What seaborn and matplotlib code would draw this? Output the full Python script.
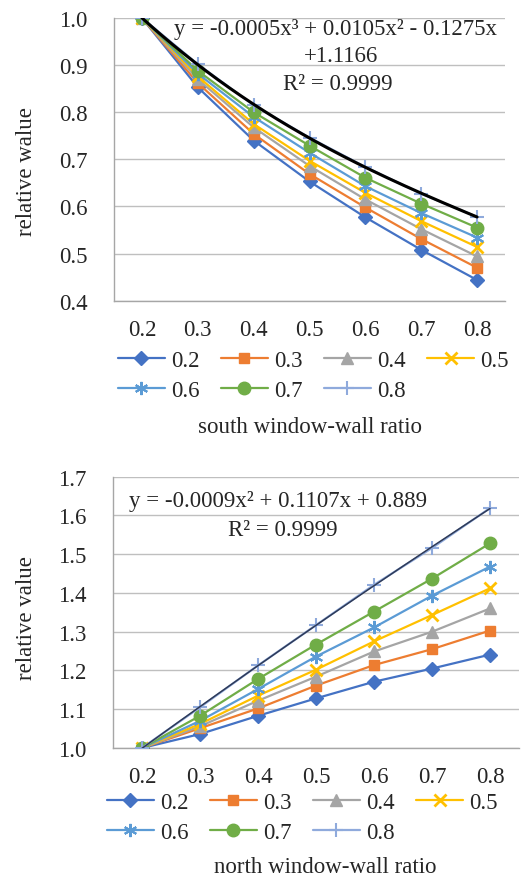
import numpy as np
import pandas as pd
import matplotlib
matplotlib.use("Agg")
import matplotlib.pyplot as plt
import seaborn as sns
from matplotlib.ticker import FixedLocator, FuncFormatter

# ---------------- data ----------------
categories = ["0.2", "0.3", "0.4", "0.5", "0.6", "0.7", "0.8"]
series_names = ["0.2", "0.3", "0.4", "0.5", "0.6", "0.7", "0.8"]

south_02 = [1.0, 0.853, 0.740, 0.653, 0.577, 0.508, 0.444]
south_03 = [1.0, 0.862, 0.754, 0.669, 0.598, 0.531, 0.470]
south_04 = [1.0, 0.870, 0.768, 0.686, 0.615, 0.552, 0.494]
south_05 = [1.0, 0.876, 0.775, 0.697, 0.629, 0.569, 0.514]
south_06 = [1.0, 0.882, 0.790, 0.714, 0.643, 0.586, 0.534]
south_07 = [1.0, 0.888, 0.800, 0.729, 0.661, 0.606, 0.555]
south_08 = [1.0, 0.902, 0.815, 0.746, 0.684, 0.627, 0.578]

north_02 = [1.0, 1.036, 1.083, 1.128, 1.171, 1.205, 1.241]
north_03 = [1.0, 1.051, 1.102, 1.161, 1.214, 1.255, 1.303]
north_04 = [1.0, 1.056, 1.122, 1.184, 1.249, 1.300, 1.360]
north_05 = [1.0, 1.062, 1.135, 1.202, 1.275, 1.343, 1.412]
north_06 = [1.0, 1.070, 1.152, 1.236, 1.311, 1.393, 1.468]
north_07 = [1.0, 1.083, 1.178, 1.267, 1.352, 1.437, 1.528]
north_08 = [1.0, 1.105, 1.213, 1.317, 1.421, 1.516, 1.619]

south_yticks = [0.4, 0.5, 0.6, 0.7, 0.8, 0.9, 1.0]
north_yticks = [1.0, 1.1, 1.2, 1.3, 1.4, 1.5, 1.6, 1.7]

south_eq = ["y = -0.0005x\u00b3 + 0.0105x\u00b2 - 0.1275x", "+1.1166", "R\u00b2 = 0.9999"]
north_eq = ["y = -0.0009x\u00b2 + 0.1107x + 0.889", "R\u00b2 = 0.9999"]

# ---------------- style ----------------
sns.set_style("white")
plt.rcParams["font.family"] = ["Liberation Serif", "DejaVu Serif"]
FS = 16.5

colors = ["#4472C4", "#ED7D31", "#A5A5A5", "#FFC000", "#5B9BD5", "#70AD47", "#8FAADC"]
markers = ["D", "s", "^", "x", (6, 2, 0), "o", "+"]
msizes = [7, 7.5, 8.5, 8.5, 9.5, 9, 10.5]
mews = [1, 1, 1, 2, 1.5, 1, 1.5]

W, H = 522, 879
fig = plt.figure(figsize=(W / 100, H / 100), dpi=100)

def px_axes(l, r, t, b):
    return fig.add_axes([l / W, 1 - b / H, (r - l) / W, (b - t) / H])

ax1 = px_axes(114, 505, 19, 301.7)
ax2 = px_axes(113, 519, 477.7, 749)

grey = "#A6A6A6"

def draw(ax, data, trend_deg, trend_color, trend_lw, ylim, yticks, ylabel, label_xy):
    x = np.arange(len(categories))
    for name, vals, c, m, ms, mew in zip(series_names, data, colors, markers, msizes, mews):
        sns.lineplot(x=x, y=vals, ax=ax, color=c, marker=m, markersize=ms,
                     markeredgewidth=mew, markeredgecolor=c, linewidth=1.6,
                     label=name, legend=False, zorder=3)
    # trendline of the last series
    xs = np.arange(1, len(categories) + 1)
    coef = np.polyfit(xs, data[-1], trend_deg)
    xf = np.linspace(1, len(categories), 200)
    sns.lineplot(x=xf - 1, y=np.polyval(coef, xf), ax=ax, color=trend_color,
                 linewidth=trend_lw, legend=False, zorder=4)
    ax.set_xlim(-0.5, len(categories) - 0.5)
    ax.set_ylim(*ylim)
    ax.set_yticks(yticks)
    ax.yaxis.set_major_formatter(FuncFormatter(lambda v, p: f"{v:.1f}"))
    ax.set_xticks(x)
    ax.set_xticklabels(categories)
    ax.xaxis.set_minor_locator(FixedLocator(np.arange(-0.5, len(categories), 1.0)))
    ax.tick_params(axis="x", which="major", length=0, pad=13, labelsize=FS)
    ax.tick_params(axis="x", which="minor", length=6, width=1, color=grey, direction="out")
    ax.tick_params(axis="y", which="major", length=6, width=1, color=grey,
                   direction="out", pad=13, labelsize=FS)
    ax.yaxis.grid(True, color="#BFBFBF", linewidth=1)
    ax.xaxis.grid(False)
    for s in ["top", "right"]:
        ax.spines[s].set_visible(False)
    for s in ["left", "bottom"]:
        ax.spines[s].set_color(grey)
        ax.spines[s].set_linewidth(1)
    ax.set_xlabel("")
    ax.set_ylabel(ylabel, fontsize=FS, va="center")
    ax.yaxis.set_label_coords(*label_xy)
    h, l = ax.get_legend_handles_labels()
    return h, l

h1, l1 = draw(ax1, [south_02, south_03, south_04, south_05, south_06, south_07, south_08],
              3, "black", 2.2, (0.4, 1.0), south_yticks, "relative walue",
              ((27 - 114) / 391, (301.7 - 172) / 282.7))
h2, l2 = draw(ax2, [north_02, north_03, north_04, north_05, north_06, north_07, north_08],
              2, "#2E3A57", 1.1, (1.0, 1.7), north_yticks, "relative value",
              ((27 - 113) / 406, (749 - 618.3) / 271.3))

order = [0, 4, 1, 5, 2, 6, 3]

def add_legend(h, l, left_px, center_px):
    leg = fig.legend([h[i] for i in order], [l[i] for i in order], ncol=4,
                     loc="center left", bbox_to_anchor=(left_px / W, 1 - center_px / H),
                     frameon=False, fontsize=FS, handlelength=2.05, handletextpad=0.25,
                     columnspacing=0.95, labelspacing=0.42, borderpad=0, borderaxespad=0)
    return leg

add_legend(h1, l1, 118, 376.5)
add_legend(h2, l2, 107, 818.5)

fig.text(310 / W, 1 - 428 / H, "south window-wall ratio", ha="center", va="center", fontsize=FS)
fig.text(325 / W, 1 - 868 / H, "north window-wall ratio", ha="center", va="center", fontsize=FS)

for txt, (cx, cy) in zip(south_eq, [(335, 30), (341, 57), (338, 85)]):
    fig.text(cx / W, 1 - cy / H, txt, ha="center", va="center", fontsize=FS, zorder=10)
for txt, (cx, cy) in zip(north_eq, [(278, 502), (283, 530)]):
    fig.text(cx / W, 1 - cy / H, txt, ha="center", va="center", fontsize=FS, zorder=10)

fig.savefig("out.png", dpi=100)
